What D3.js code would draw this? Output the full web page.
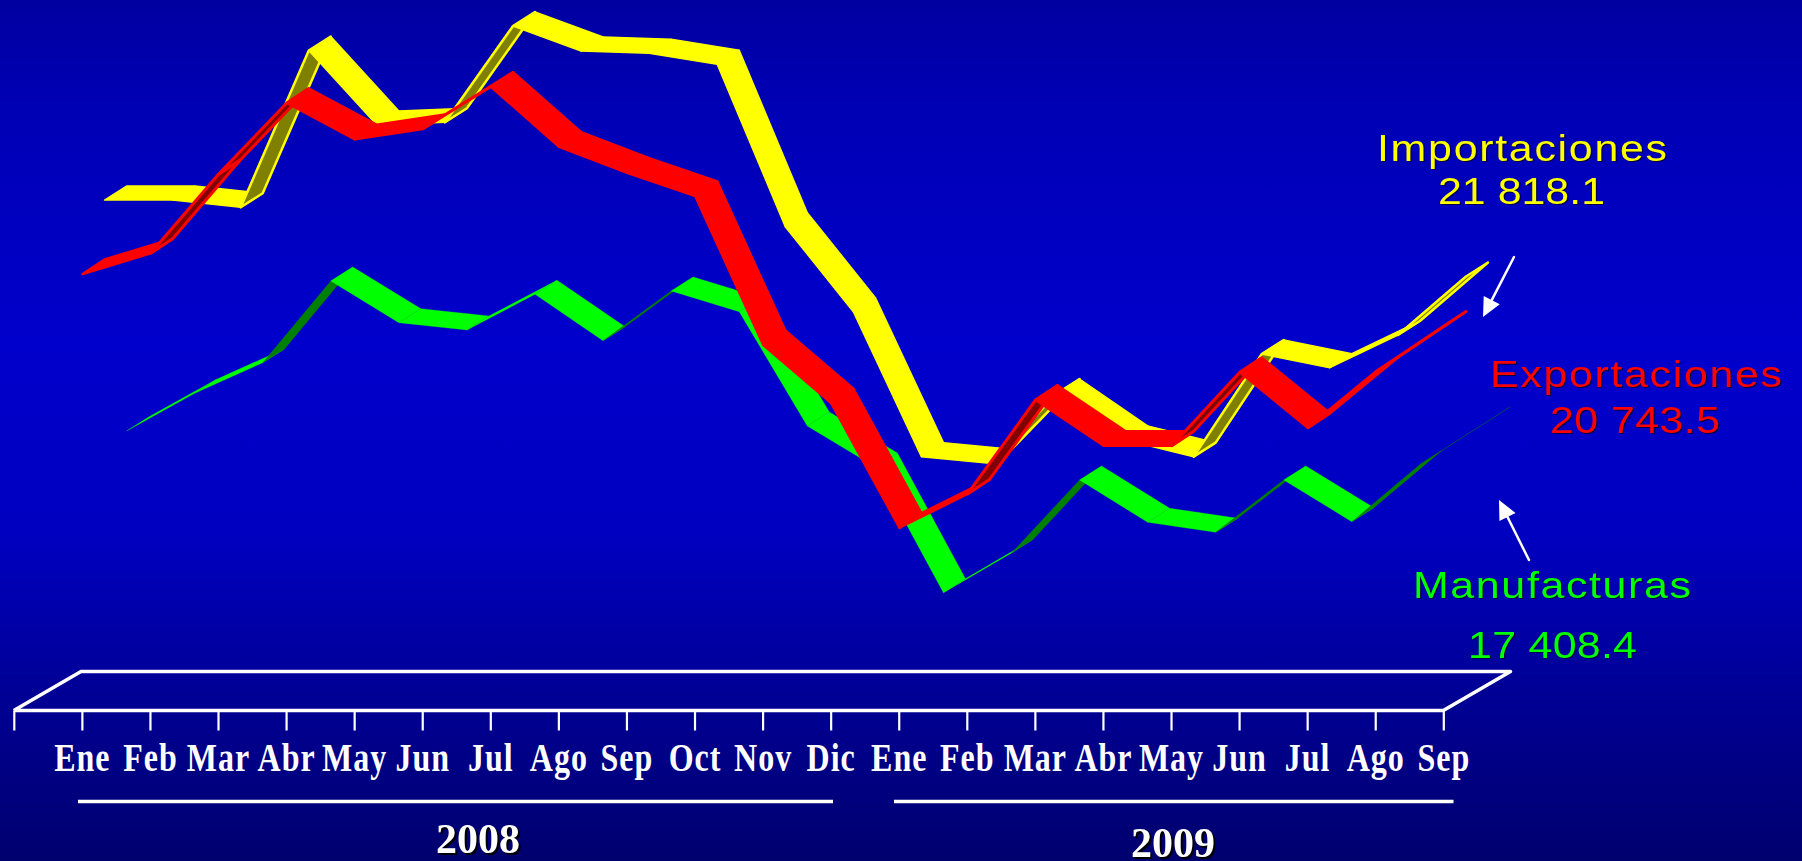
<!DOCTYPE html>
<html lang="es">
<head>
<meta charset="utf-8">
<title>Importaciones, exportaciones y manufacturas</title>
<script src="https://cdnjs.cloudflare.com/ajax/libs/d3/7.8.5/d3.min.js"></script>
<style>
html,body{margin:0;padding:0;background:#000080;overflow:hidden}
svg{display:block}
.month{font-family:"Liberation Serif","Times New Roman",serif;font-weight:700;fill:#fff}
.label{font-family:"Liberation Sans",Arial,sans-serif}
</style>
</head>
<body>
<svg id="chart" width="1802" height="861"></svg>
<script>
// ---- data ----
const months = ["Ene","Feb","Mar","Abr","May","Jun","Jul","Ago","Sep","Oct","Nov","Dic",
                "Ene","Feb","Mar","Abr","May","Jun","Jul","Ago","Sep"];
const exportaciones = [22214,22799,25041,27048,26022,26313,27509,25812,25077,24419,20206,
                       18558,15041,15994,18652,17360,17360,19435,17869,19452,20743.5];
const importaciones = [23980,23980,23774,28207,26101,26177,28899,28193,28128,27817,23226,
                       20823,16724,16537,18524,17196,16724,19627,19240,20164,21818.1];
const manufacturas  = [17125,18191,19056,21366,20187,19980,20990,19678,21083,20498,17266,
                       16107,12554,13676,15740,14544,14261,15740,14561,16178,17408.4];
const years = ["2008","2009"];
const seriesNames = ["Manufacturas","Importaciones","Exportaciones"];
const seriesTotals = ["17 408.4","21 818.1","20 743.5"];

// ---- scales ----
const W = 1802, H = 861;
const x = d3.scaleLinear().domain([-1,20]).range([14.5,1444]);
const y = d3.scaleLinear().domain([10000,30000]).range([706,-1.4]);

// 3-D projection: every series sits in its own row of the depth axis
const depthX = 22, rowY = 11.5;
const rows = [
  {values:manufacturas,  row:2, depthY:14,   top:"#00ff00", under:"#008000", swTop:0.3, swUnder:0.3, outline:false},
  {values:importaciones, row:1, depthY:14,   top:"#ffff00", under:"#808000", swTop:1.5, swUnder:2.5, outline:true},
  {values:exportaciones, row:0, depthY:14.5, top:"#ff0000", under:"#800000", swTop:2.5, swUnder:3, outline:true}
];

const svg = d3.select("#chart");
const defs = svg.append("defs");
const grad = defs.append("linearGradient").attr("id","bg").attr("x1",0).attr("y1",0).attr("x2",0).attr("y2",1);
[[0,"#0000a0"],[0.12,"#0000b4"],[0.4,"#0000cc"],[0.62,"#0000c0"],[0.8,"#000096"],[1,"#00006e"]]
  .forEach(s=>grad.append("stop").attr("offset",s[0]).attr("stop-color",s[1]));
svg.append("rect").attr("width",W).attr("height",H).attr("fill","url(#bg)");

// ---- ribbons ----
const poly = d3.line();
rows.forEach(s=>{
  const depthY = s.depthY;
  const fx = i => x(i)+s.row*depthX;
  const fy = i => y(s.values[i])-s.row*rowY;
  const segs = d3.range(s.values.length-1).map(i=>{
    const ex = fx(i+1)-fx(i), ey = fy(i+1)-fy(i);
    const isUnder = ex*(-depthY)-ey*depthX > 0;
    return {
      pts:[[fx(i),fy(i)],[fx(i+1),fy(i+1)],[fx(i+1)+depthX,fy(i+1)-depthY],[fx(i)+depthX,fy(i)-depthY]],
      isUnder
    };
  });
  svg.append("g").selectAll("path").data(segs).join("path")
    .attr("d",d=>poly(d.pts)+"Z")
    .attr("fill",d=>d.isUnder?s.under:s.top)
    .attr("stroke",d=>(s.outline||!d.isUnder)?s.top:s.under)
    .attr("stroke-width",d=>d.isUnder?s.swUnder:s.swTop)
    .attr("stroke-linejoin","round");
});

// ---- floor and axis ----
const floorG = svg.append("g").attr("fill","none").attr("stroke","#fff").attr("stroke-width",3.5);
const fy0 = 710.5, by0 = 671.5, dX = 66.5;
floorG.append("path").attr("stroke-linejoin","round")
  .attr("d",d3.line()([[x(-1)-0.7,fy0],[x(-1)+dX,by0],[x(20)+dX,by0],[x(20)-0.7,fy0],[x(-1)-0.7,fy0]]));

const axis = d3.axisBottom(x)
  .tickValues(d3.range(-1,21))
  .tickSize(20).tickSizeOuter(0)
  .tickFormat(i=>months[i]||"");
const axG = svg.append("g").attr("transform",`translate(-0.7,${fy0})`).call(axis);
axG.select(".domain").remove();
axG.selectAll("line").attr("stroke","#fff").attr("stroke-width",2.2);
axG.selectAll("text").attr("class","month").attr("font-size",32)
  .attr("fill","#fff").attr("text-anchor","middle").attr("letter-spacing",1)
  .attr("y",0).attr("dy",0)
  .attr("transform","translate(0,60.5) scale(1,1.22)");

// ---- year brackets ----
const yearSpans = [[78,833,478,853],[894,1453.5,1173,857]];
yearSpans.forEach((p,i)=>{
  svg.append("line").attr("x1",p[0]).attr("x2",p[1]).attr("y1",801.5).attr("y2",801.5)
    .attr("stroke","#fff").attr("stroke-width",3.7);
  svg.append("text").attr("class","month").attr("x",p[2]).attr("y",p[3])
    .attr("text-anchor","middle").attr("font-size",42)
    .style("filter","drop-shadow(2.5px 2px 0 #000)").text(years[i]);
});

// ---- series labels ----
const stretch = 1.16;
const labels = [
  {t:seriesNames[1],x:1377,w:290,y:160.5,c:"#ffff00"},
  {t:seriesTotals[1],x:1438,w:167,y:204,c:"#ffff00"},
  {t:seriesNames[2],x:1490,w:292,y:387,c:"#ff0000"},
  {t:seriesTotals[2],x:1550,w:170,y:433,c:"#ff0000"},
  {t:seriesNames[0],x:1413,w:278,y:598,c:"#00ff00"},
  {t:seriesTotals[0],x:1468,w:169,y:657.5,c:"#00ff00"}
];
svg.append("g").selectAll("text").data(labels).join("text")
  .attr("class","label")
  .attr("transform",d=>`translate(${d.x},${d.y}) scale(${stretch},1)`)
  .attr("font-size",37).attr("fill",d=>d.c)
  .attr("textLength",d=>d.w/stretch).attr("lengthAdjust","spacing")
  .style("filter","drop-shadow(1.5px 1.5px 0 #00004a)")
  .text(d=>d.t);

// ---- arrows ----
const arrows = [[[1514,257],[1483,317]],[[1529,560],[1499,500]]];
arrows.forEach(a=>{
  const [p,q] = a;
  const ang = Math.atan2(q[1]-p[1],q[0]-p[0]);
  const L = 19, Wd = 9;
  const bx = q[0]-L*Math.cos(ang), by = q[1]-L*Math.sin(ang);
  svg.append("line").attr("x1",p[0]).attr("y1",p[1]).attr("x2",bx).attr("y2",by)
    .attr("stroke","#fff").attr("stroke-width",2.5).attr("stroke-linecap","round");
  svg.append("path").attr("fill","#fff")
    .attr("d",poly([q,[bx-Wd*Math.sin(ang),by+Wd*Math.cos(ang)],[bx+Wd*Math.sin(ang),by-Wd*Math.cos(ang)]])+"Z");
});
</script>
</body>
</html>
